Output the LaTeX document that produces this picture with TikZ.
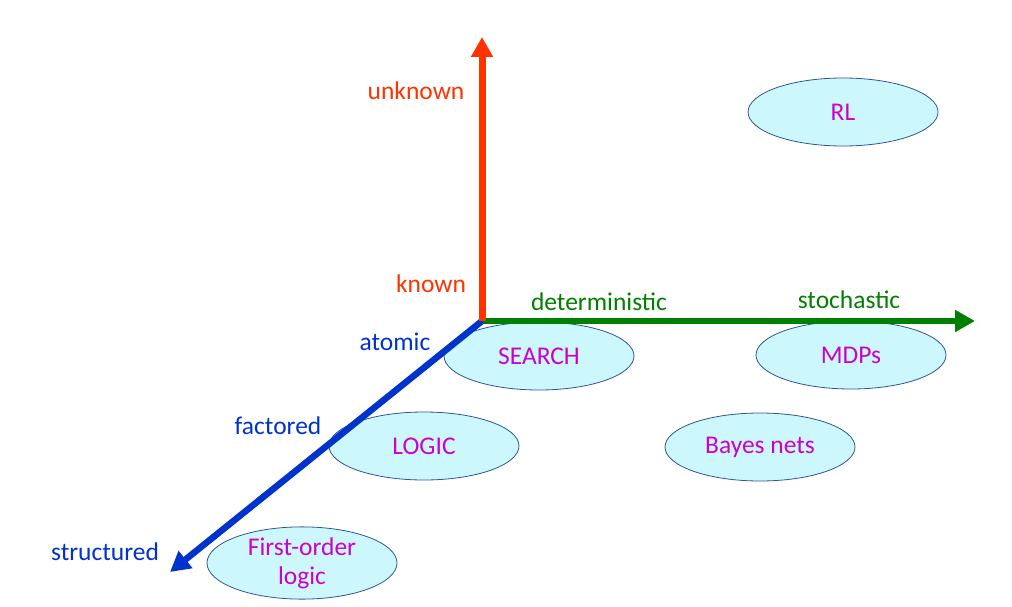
\documentclass[tikz,border=0pt]{standalone}
\usepackage{fontspec}
\setmainfont{Carlito}
\usetikzlibrary{shapes.geometric,arrows.meta}
\definecolor{axisred}{HTML}{FF3300}
\definecolor{axisgreen}{HTML}{008000}
\definecolor{axisblue}{HTML}{0033CC}
\definecolor{blobfill}{HTML}{CCF8FD}
\definecolor{blobline}{HTML}{2F5597}
\definecolor{blobtext}{HTML}{CC00CC}
\begin{document}
\begin{tikzpicture}[x=1pt, y=-1pt, font=\fontsize{25.5}{29}\selectfont,
  blob/.style = {draw=blobline, fill=blobfill, ellipse, minimum width=190pt, minimum height=68pt, inner sep=0pt, text=blobtext, align=center, line width=0.8pt},
  axis/.style = {line width=7pt, -{Triangle[width=21pt, length=20pt]}}]
\useasboundingbox (0,0) rectangle (1012,607);

% ellipses
\node[blob] (rl) at (843,112) {RL};
\node[blob] (search) at (539,356) {SEARCH};
\node[blob] (mdp) at (851,355) {MDPs};
\node[blob] (logic) at (424,446) {LOGIC};
\node[blob] (bayes) at (760,447) {Bayes nets};
\node[blob] (fol) at (302,563) {First-order\\logic};

% axes
\coordinate (o) at (482,321);
\coordinate (up) at (482,37);
\coordinate (right) at (975,321);
\coordinate (down) at (170,572);
\draw [axis, color=axisgreen, line width=6pt] (o) -- (right);
\draw [axis, color=axisblue, line width=6.5pt] (o) -- (down);
\draw [axis, color=axisred] (o) -- (up);

% labels
\node[text=axisred] (unknown) at (416,91) {unknown};
\node[text=axisred] (known) at (431,284) {known};
\node[text=axisgreen] (det) at (599,302) {deterministic};
\node[text=axisgreen] (sto) at (849,300) {stochastic};
\node[text=axisblue] (atomic) at (395,342) {atomic};
\node[text=axisblue] (factored) at (278,426) {factored};
\node[text=axisblue] (structured) at (105,552) {structured};

\end{tikzpicture}
\end{document}
